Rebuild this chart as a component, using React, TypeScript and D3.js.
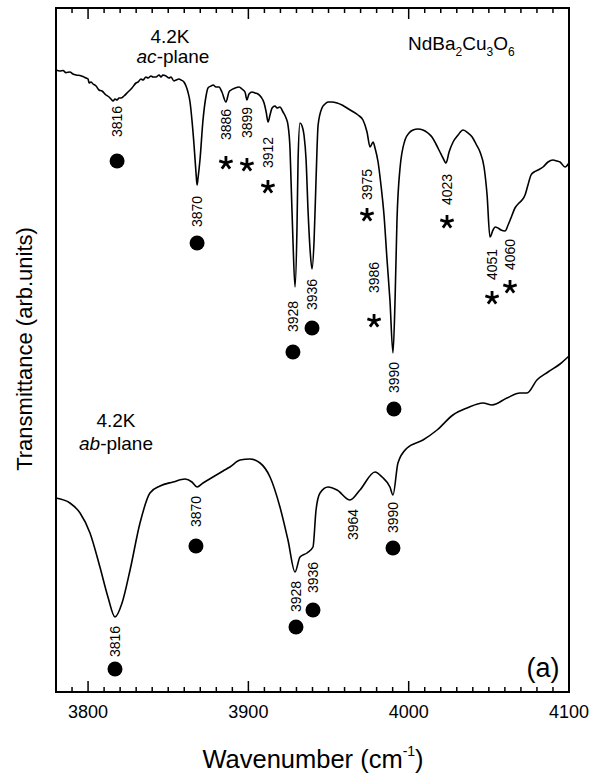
import React, { useEffect, useRef } from "react";
import * as d3 from "d3";

// ac-plane spectrum (upper trace)
const acWavenumber = [
  3780.0, 3782.5, 3784.4, 3786.2, 3788.7, 3790.6, 3792.5, 3795.0, 3796.8, 3798.7, 3800.0, 3800.6, 3801.8,
  3803.1, 3805.0, 3806.8, 3808.7, 3811.2, 3813.1, 3814.3, 3815.6, 3816.8, 3818.1, 3819.3, 3820.5, 3822.4,
  3824.9, 3827.4, 3829.9, 3831.2, 3833.0, 3834.3, 3836.1, 3837.4, 3839.3, 3840.5, 3842.4, 3844.3, 3845.5,
  3846.7, 3848.6, 3850.5, 3851.7, 3853.6, 3854.9, 3856.7, 3858.0, 3859.8, 3861.1, 3862.3, 3863.6, 3864.8,
  3866.1, 3867.3, 3868.0, 3868.6, 3869.8, 3871.7, 3873.6, 3874.8, 3876.7, 3878.0, 3879.8, 3881.7, 3883.5,
  3886.0, 3887.9, 3889.2, 3891.7, 3894.2, 3896.0, 3897.9, 3899.1, 3900.4, 3902.3, 3904.1, 3906.0, 3907.9,
  3909.8, 3911.1, 3912.3, 3913.5, 3914.8, 3916.6, 3917.9, 3919.7, 3921.6, 3923.5, 3924.7, 3926.0, 3926.6,
  3927.8, 3929.1, 3930.3, 3931.0, 3932.2, 3933.5, 3934.7, 3936.0, 3937.2, 3938.5, 3939.7, 3941.0, 3942.2,
  3943.5, 3945.9, 3947.8, 3949.7, 3952.2, 3955.3, 3958.4, 3961.5, 3964.6, 3968.4, 3971.5, 3974.0, 3975.9,
  3977.8, 3979.0, 3980.9, 3982.7, 3984.6, 3986.5, 3988.3, 3990.2, 3991.5, 3992.7, 3994.6, 3997.7, 4000.2,
  4002.7, 4005.8, 4008.9, 4012.0, 4014.5, 4017.0, 4019.5, 4021.4, 4023.3, 4025.2, 4027.7, 4030.8, 4033.9,
  4037.1, 4039.6, 4042.0, 4044.5, 4047.0, 4048.9, 4050.7, 4052.6, 4053.9, 4055.7, 4057.6, 4060.1, 4062.0,
  4063.8, 4066.3, 4068.8, 4070.7, 4072.6, 4074.4, 4076.3, 4078.2, 4080.7, 4083.8, 4086.9, 4090.0, 4092.5,
  4094.4, 4097.5, 4100.0,
];
const acTransmittance = [
  62.2, 62.1, 62.15, 61.93, 62.0, 61.8, 61.7, 61.65, 61.55, 61.4, 61.3, 60.9, 61.0,
  60.8, 60.6, 60.2, 60.1, 59.7, 59.5, 59.3, 59.1, 59.3, 59.2, 59.4, 59.4, 59.6,
  60.0, 60.4, 60.9, 61.0, 61.3, 61.2, 61.5, 61.4, 61.6, 61.5, 61.5, 61.7, 61.5,
  61.7, 61.6, 61.4, 61.5, 61.1, 61.2, 61.3, 61.2, 61.0, 60.6, 60.0, 59.0, 57.2,
  54.7, 52.0, 50.7, 51.4, 53.2, 57.2, 59.6, 60.4, 60.6, 60.7, 60.5, 60.5, 60.0,
  59.0, 60.0, 60.2, 60.4, 60.5, 60.3, 60.0, 59.2, 59.8, 60.0, 59.9, 59.8, 59.5,
  58.9, 58.0, 57.0, 57.7, 58.4, 58.6, 58.4, 58.5, 58.0, 57.4, 56.7, 54.2, 51.2,
  45.2, 40.5, 46.2, 53.2, 56.9, 56.6, 55.7, 53.2, 48.2, 44.2, 42.3, 45.2, 51.2,
  56.7, 58.4, 58.8, 59.0, 59.0, 58.9, 58.7, 58.4, 58.1, 57.7, 57.2, 56.0, 54.5,
  55.0, 54.4, 53.0, 50.7, 47.7, 43.2, 39.2, 33.9, 39.2, 47.2, 52.4, 55.2, 55.9,
  56.2, 56.3, 56.2, 55.9, 55.5, 54.8, 54.0, 53.4, 52.9, 54.0, 55.0, 55.7, 56.2,
  55.9, 55.5, 54.8, 54.0, 52.5, 49.7, 45.5, 46.2, 46.5, 46.4, 46.2, 46.1, 46.7,
  47.4, 48.4, 48.9, 49.2, 49.7, 50.7, 51.7, 52.0, 52.2, 52.5, 53.0, 53.2, 53.1,
  53.0, 52.5, 52.9,
];

// ab-plane spectrum (lower trace)
const abWavenumber = [
  3780.0, 3788.7, 3795.0, 3801.2, 3807.4, 3812.4, 3816.8, 3821.2, 3826.2, 3832.4, 3838.6, 3844.9, 3853.0,
  3860.5, 3864.8, 3868.0, 3871.7, 3877.9, 3884.2, 3888.5, 3894.8, 3901.0, 3907.3, 3913.5, 3919.7, 3924.7,
  3929.1, 3932.2, 3936.6, 3940.3, 3942.2, 3944.7, 3949.7, 3955.3, 3963.4, 3969.6, 3979.0, 3983.4, 3988.3,
  3990.2, 3993.3, 3999.0, 4008.9, 4017.7, 4027.6, 4036.4, 4046.4, 4052.0, 4061.3, 4069.4, 4073.8, 4080.0,
  4086.9, 4094.4, 4100.0,
];
const abTransmittance = [
  19.4, 18.9, 17.9, 15.9, 12.5, 9.5, 7.5, 8.9, 12.2, 16.9, 19.9, 20.6, 21.0,
  21.3, 21.0, 20.5, 20.9, 21.5, 22.1, 22.5, 23.2, 23.3, 22.9, 21.5, 18.5, 15.2,
  12.0, 13.5, 13.9, 14.5, 18.2, 19.9, 20.5, 20.2, 19.2, 20.2, 22.0, 21.5, 20.5,
  19.7, 22.9, 24.4, 25.2, 26.2, 27.7, 28.4, 28.9, 28.7, 29.4, 29.9, 29.9, 31.2,
  32.0, 32.8, 33.6,
];

// assignments: marker position and where the rotated label starts
const acDots = [
  { label: "3816", wn: 3818.1, t: 53.1, labelAt: 55.5 },
  { label: "3870", wn: 3868.0, t: 44.9, labelAt: 46.5 },
  { label: "3928", wn: 3927.8, t: 34.0, labelAt: 36.0 },
  { label: "3936", wn: 3939.7, t: 36.4, labelAt: 38.2 },
  { label: "3990", wn: 3990.8, t: 28.3, labelAt: 29.9 },
];
const acStars = [
  { label: "3886", wn: 3886.0, t: 52.9, labelAt: 55.2 },
  { label: "3899", wn: 3899.1, t: 52.7, labelAt: 55.4 },
  { label: "3912", wn: 3912.2, t: 50.5, labelAt: 52.4 },
  { label: "3975", wn: 3974.0, t: 47.7, labelAt: 49.2 },
  { label: "3986", wn: 3978.4, t: 37.1, labelAt: 39.9 },
  { label: "4023", wn: 4023.9, t: 47.0, labelAt: 48.7 },
  { label: "4051", wn: 4052.0, t: 39.4, labelAt: 41.2 },
  { label: "4060", wn: 4063.2, t: 40.5, labelAt: 42.2 },
];
const abDots = [
  { label: "3816", wn: 3816.8, t: 2.3, labelAt: 3.5 },
  { label: "3870", wn: 3867.3, t: 14.6, labelAt: 16.5 },
  { label: "3928", wn: 3929.7, t: 6.5, labelAt: 8.0 },
  { label: "3936", wn: 3940.3, t: 8.2, labelAt: 9.9 },
  { label: "3990", wn: 3990.2, t: 14.4, labelAt: 15.9 },
];
const abLabelsOnly = [{ label: "3964", wn: 3965.3, labelAt: 15.2 }];

const xTicks = [3800, 3900, 4000, 4100];

const W = 592;
const H = 776;
const FONT = "'Liberation Sans', Arial, Helvetica, sans-serif";

export default function App() {
  const svgRef = useRef(null);

  useEffect(() => {
    const svg = d3.select(svgRef.current);
    svg.selectAll("*").remove();

    const left = 56, right = 569, top = 8, bottom = 692;

    const x = d3.scaleLinear().domain([3780, 4100]).range([left, right]);
    const y = d3.scaleLinear().domain([0, 68.4]).range([bottom, top]);

    const line = d3
      .line()
      .x((d) => x(d[0]))
      .y((d) => y(d[1]))
      .curve(d3.curveMonotoneX);

    // frame
    svg.append("rect")
      .attr("x", left).attr("y", top)
      .attr("width", right - left).attr("height", bottom - top)
      .attr("fill", "none").attr("stroke", "#000").attr("stroke-width", 2);

    // ticks on bottom and top, pointing in
    const minor = d3.range(3780, 4101, 10);
    const tickLen = (v) => (v % 100 === 0 ? 11 : 5);
    const tg = svg.append("g").attr("stroke", "#000").attr("stroke-width", 1.5);
    minor.forEach((v) => {
      tg.append("line").attr("x1", x(v)).attr("x2", x(v)).attr("y1", bottom).attr("y2", bottom - tickLen(v));
      tg.append("line").attr("x1", x(v)).attr("x2", x(v)).attr("y1", top).attr("y2", top + tickLen(v));
    });

    svg.append("g")
      .selectAll("text")
      .data(xTicks)
      .enter()
      .append("text")
      .attr("x", (d) => x(d))
      .attr("y", 718)
      .attr("text-anchor", "middle")
      .attr("font-size", 18)
      .attr("font-family", FONT)
      .text((d) => d);

    // axis titles
    const xt = svg.append("text")
      .attr("x", 313).attr("y", 768)
      .attr("text-anchor", "middle")
      .attr("font-size", 25.5)
      .attr("font-family", FONT);
    xt.append("tspan").text("Wavenumber (cm");
    xt.append("tspan").attr("font-size", 14).attr("dy", -12).text("-1");
    xt.append("tspan").attr("dy", 12).text(")");

    svg.append("text")
      .attr("transform", "translate(32,349) rotate(-90)")
      .attr("text-anchor", "middle")
      .attr("font-size", 22)
      .attr("font-family", FONT)
      .text("Transmittance (arb.units)");

    // spectra
    const ac = acWavenumber.map((w, i) => [w, acTransmittance[i]]);
    const ab = abWavenumber.map((w, i) => [w, abTransmittance[i]]);
    [ac, ab].forEach((series) => {
      svg.append("path")
        .datum(series)
        .attr("fill", "none")
        .attr("stroke", "#000")
        .attr("stroke-width", 1.6)
        .attr("stroke-linejoin", "round")
        .attr("d", line);
    });

    // markers
    const dots = acDots.concat(abDots);
    svg.append("g")
      .selectAll("circle")
      .data(dots)
      .enter()
      .append("circle")
      .attr("cx", (d) => x(d.wn))
      .attr("cy", (d) => y(d.t))
      .attr("r", 7.5)
      .attr("fill", "#000");

    const star = (r) =>
      d3.range(5).map((k) => {
        const a = ((-90 + 72 * k) * Math.PI) / 180;
        return `M0,0L${(r * Math.cos(a)).toFixed(2)},${(r * Math.sin(a)).toFixed(2)}`;
      }).join("");
    svg.append("g")
      .selectAll("path")
      .data(acStars)
      .enter()
      .append("path")
      .attr("transform", (d) => `translate(${x(d.wn)},${y(d.t)})`)
      .attr("d", star(7))
      .attr("stroke", "#000")
      .attr("stroke-width", 2.8)
      .attr("fill", "none");

    // rotated peak labels
    const labels = [...acDots, ...acStars, ...abDots, ...abLabelsOnly];
    svg.append("g")
      .selectAll("text")
      .data(labels)
      .enter()
      .append("text")
      .attr("transform", (d) => `translate(${x(d.wn)},${y(d.labelAt)}) rotate(-90)`)
      .attr("dy", "0.36em")
      .attr("font-size", 14)
      .attr("font-family", FONT)
      .text((d) => d.label);

    // annotations
    const note = (tx, ty, size, parts) => {
      const t = svg.append("text")
        .attr("x", tx).attr("y", ty)
        .attr("text-anchor", "middle")
        .attr("font-size", size)
        .attr("font-family", FONT);
      parts.forEach((p) => {
        const s = t.append("tspan").text(p.t);
        if (p.italic) s.attr("font-style", "italic");
      });
      return t;
    };
    note(170, 43, 19, [{ t: "4.2K" }]);
    note(173, 63, 19, [{ t: "ac", italic: true }, { t: "-plane" }]);
    note(116, 427, 19, [{ t: "4.2K" }]);
    note(116, 450, 19, [{ t: "ab", italic: true }, { t: "-plane" }]);

    const chem = svg.append("text")
      .attr("x", 408).attr("y", 50)
      .attr("font-size", 19)
      .attr("font-family", FONT);
    [["Nd", ""], ["Ba", ""], ["2", "sub"], ["Cu", ""], ["3", "sub"], ["O", ""], ["6", "sub"]].forEach(([t, k], i, arr) => {
      const prevSub = i > 0 && arr[i - 1][1] === "sub";
      const s = chem.append("tspan").text(t);
      if (k === "sub") s.attr("font-size", 12).attr("dy", 6);
      else if (prevSub) s.attr("dy", -6);
    });

    svg.append("text")
      .attr("x", 543).attr("y", 677)
      .attr("text-anchor", "middle")
      .attr("font-size", 27)
      .attr("font-family", FONT)
      .text("(a)");
  }, []);

  return (
    <svg
      ref={svgRef}
      width={W}
      height={H}
      style={{ position: "absolute", left: 0, top: 0, background: "#fff" }}
    />
  );
}
